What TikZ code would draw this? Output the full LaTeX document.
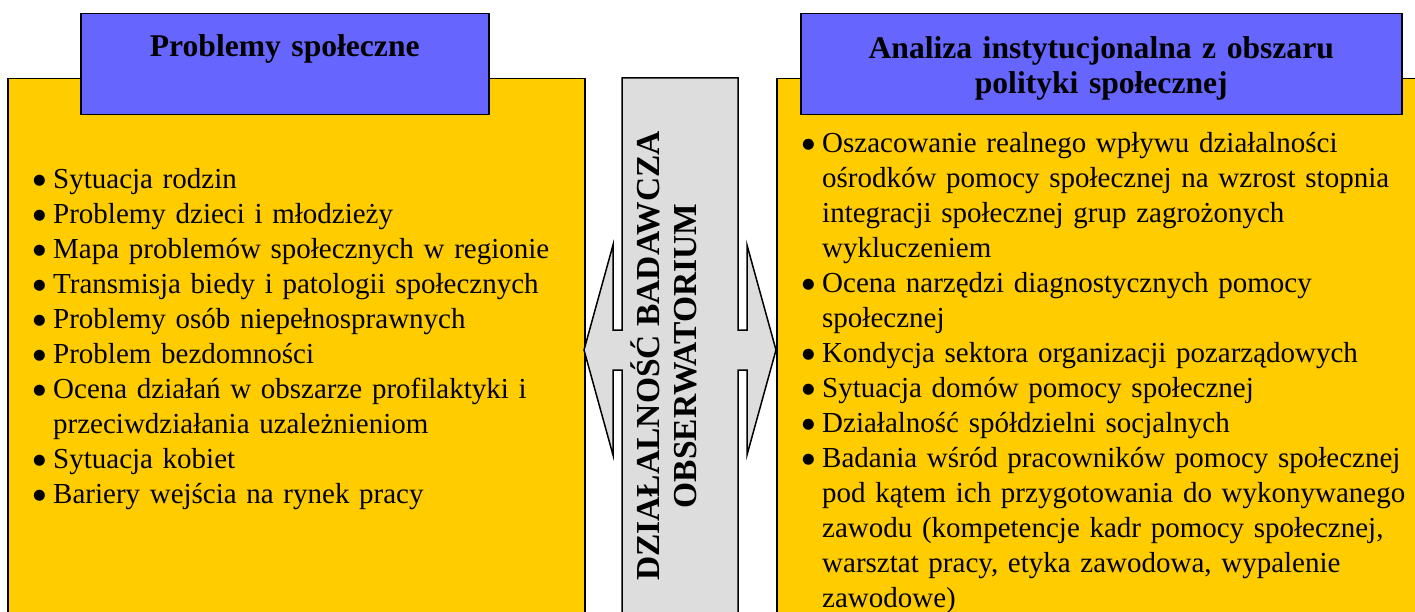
\documentclass[tikz,border=0pt]{standalone}
\usepackage{fontspec}
\setmainfont{Liberation Serif}
\newfontfamily\dotfont{DejaVu Sans}
\usetikzlibrary{calc,positioning}
\definecolor{panelyellow}{RGB}{255,204,0}
\definecolor{titleblue}{RGB}{102,102,255}
\definecolor{arrowgray}{RGB}{221,221,221}
\tikzset{
    % Box styles
    panel box/.style={
        draw=black,
        fill=panelyellow,
        line width=1.5pt,
        rectangle,
        anchor=north west,
        inner sep=0pt
    },
    title box/.style={
        draw=black,
        fill=titleblue,
        line width=1.5pt,
        rectangle,
        anchor=north west,
        inner sep=0pt
    },
    % Text styles
    title text/.style={
        font=\fontsize{31.6}{35}\selectfont\bfseries,
        text width=600pt,
        align=center,
        inner sep=0pt,
        anchor=base
    },
    list text/.style={
        font=\fontsize{29}{35}\selectfont,
        text width=620pt,
        align=left,
        inner sep=0pt,
        anchor=base west
    },
    side text/.style={
        font=\fontsize{33.5}{35}\selectfont\bfseries,
        rotate=90,
        inner sep=0pt,
        anchor=base
    }
}
% one bullet point with hanging indent, \nl breaks a line inside it
\newcommand{\li}[1]{\hangindent=20pt\hangafter=1\noindent\makebox[20pt][l]{\raisebox{4.5pt}{\dotfont\fontsize{14.5}{14}\selectfont ●}}#1\par}
\newcommand{\nl}{\hfil\break}

\begin{document}
\begin{tikzpicture}[x=1pt, y=1pt]
    \clip (0,0) rectangle (1415,-612);

    % panels
    \node[panel box, minimum width=577pt, minimum height=600pt] (leftpanel) at (7,-78) {};
    \node[panel box, minimum width=700pt, minimum height=600pt] (rightpanel) at (776,-78) {};

    % middle double arrow with shaft
    \draw[line width=1.5pt, fill=arrowgray]
        (622,-78) -- (738,-78) -- (738,-330) -- (747,-330) -- (747,-245)
        -- (776,-350) -- (747,-455) -- (747,-370) -- (738,-370) -- (738,-700)
        -- (622,-700) -- (622,-370) -- (613,-370) -- (613,-455)
        -- (584,-350) -- (613,-245) -- (613,-330) -- (622,-330) -- cycle;
    \node[side text] (sidetop) at (659,-356) {DZIAŁALNOŚĆ BADAWCZA};
    \node[side text] (sidebot) at (696,-356) {OBSERWATORIUM};

    % titles
    \node[title box, minimum width=408pt, minimum height=101pt] (lefttitle) at (80,-13) {};
    \node[title box, minimum width=601pt, minimum height=101pt] (righttitle) at (800,-13) {};
    \node[title text] (lefthead) at ($(lefttitle.north)+(0,-44)$) {Problemy społeczne};
    \node[title text] (righthead) at ($(righttitle.north)+(0,-46)$)
        {Analiza instytucjonalna z obszaru\\polityki społecznej};

    % lists
    \node[list text] (leftlist) at ($(leftpanel.north west)+(26,-111)$) {%
        \li{Sytuacja rodzin}
        \li{Problemy dzieci i młodzieży}
        \li{Mapa problemów społecznych w regionie}
        \li{Transmisja biedy i patologii społecznych}
        \li{Problemy osób niepełnosprawnych}
        \li{Problem bezdomności}
        \li{Ocena działań w obszarze profilaktyki i\nl przeciwdziałania uzależnieniom}
        \li{Sytuacja kobiet}
        \li{Bariery wejścia na rynek pracy}};
    \node[list text] (rightlist) at ($(rightpanel.north west)+(26,-75)$) {%
        \li{Oszacowanie realnego wpływu działalności\nl ośrodków pomocy społecznej na wzrost stopnia\nl integracji społecznej grup zagrożonych\nl wykluczeniem}
        \li{Ocena narzędzi diagnostycznych pomocy\nl społecznej}
        \li{Kondycja sektora organizacji pozarządowych}
        \li{Sytuacja domów pomocy społecznej}
        \li{Działalność spółdzielni socjalnych}
        \li{Badania wśród pracowników pomocy społecznej\nl pod kątem ich przygotowania do wykonywanego\nl zawodu (kompetencje kadr pomocy społecznej,\nl warsztat pracy, etyka zawodowa, wypalenie\nl zawodowe)}};
\end{tikzpicture}
\end{document}
